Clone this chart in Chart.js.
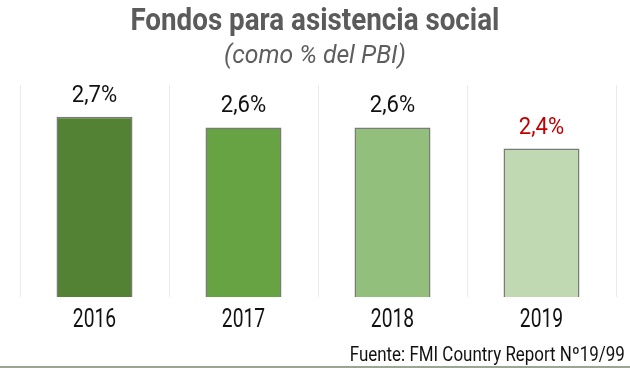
<!DOCTYPE html>
<html>
<head>
<meta charset="utf-8">
<script src="https://cdn.jsdelivr.net/npm/chart.js@4"></script>
<style>
  html,body{margin:0;padding:0;background:#fff;}
  #wrap{position:relative;width:630px;height:368px;overflow:hidden;font-family:Roboto,"Noto Sans",sans-serif;}
  #chart{position:absolute;left:0;top:0;}
  .line{position:absolute;left:0;width:630px;text-align:center;white-space:nowrap;line-height:1.17;}
  .line span{display:inline-block;transform-origin:center center;}
  #title{top:2px;font-weight:700;font-size:31px;color:#5b5b5b;}
  #subtitle{top:40px;font-style:italic;font-size:25px;color:#5e5e5e;}
  #source{top:343px;left:auto;right:5px;width:auto;text-align:right;font-size:20px;color:#111;}
  #source span{transform-origin:right center;}
  #bottomline{position:absolute;left:0;bottom:0;width:630px;height:2px;background:#9aa592;}
</style>
</head>
<body>
<div id="wrap">
  <canvas id="chart" width="630" height="368"></canvas>
  <div class="line" id="title"><span data-w="369">Fondos para asistencia social</span></div>
  <div class="line" id="subtitle"><span data-w="182">(como % del PBI)</span></div>
  <div class="line" id="source"><span data-w="275">Fuente: FMI Country Report Nº19/99</span></div>
  <div id="bottomline"></div>
</div>
<script>
const categories = ["2016", "2017", "2018", "2019"];
const values = [2.7, 2.6, 2.6, 2.4];
const valueLabels = ["2,7%", "2,6%", "2,6%", "2,4%"];
const barColors = ["#548235", "#67a243", "#93bf7c", "#c1d9b3"];
const labelColors = ["#111111", "#111111", "#111111", "#c00000"];

// condense HTML text to target widths
document.querySelectorAll('.line span').forEach(s => {
  const target = parseFloat(s.dataset.w);
  const w = s.getBoundingClientRect().width;
  s.style.transform = 'scaleX(' + (target / w) + ')';
});

const condensedLabels = {
  id: 'condensedLabels',
  afterDatasetsDraw(chart) {
    const ctx = chart.ctx;
    const meta = chart.getDatasetMeta(0);
    const xs = chart.scales.x;
    ctx.save();
    ctx.textAlign = 'center';
    ctx.textBaseline = 'alphabetic';
    meta.data.forEach((bar, i) => {
      // value labels
      ctx.save();
      ctx.font = '400 24px Roboto';
      ctx.fillStyle = labelColors[i];
      ctx.translate(bar.x, bar.y - 15);
      ctx.scale(0.92, 1);
      ctx.fillText(valueLabels[i], 0, 0);
      ctx.restore();
      // category labels
      ctx.save();
      ctx.font = '400 25px Roboto';
      ctx.fillStyle = '#111111';
      ctx.translate(xs.getPixelForValue(i), chart.chartArea.bottom + 30);
      ctx.scale(0.77, 1);
      ctx.fillText(categories[i], 0, 0);
      ctx.restore();
    });
    ctx.restore();
  }
};

new Chart(document.getElementById('chart'), {
  type: 'bar',
  data: {
    labels: categories,
    datasets: [{
      data: values,
      backgroundColor: barColors,
      borderColor: '#7a7a7a',
      borderWidth: 1.5,
      barPercentage: 0.51,
      categoryPercentage: 1.0
    }]
  },
  options: {
    responsive: false,
    animation: false,
    layout: { padding: { left: 20, right: 14, top: 85, bottom: 71 } },
    plugins: { legend: { display: false }, tooltip: { enabled: false }, title: { display: false } },
    scales: {
      x: {
        display: true,
        grid: { display: true, offset: true, color: '#ebebeb', lineWidth: 1, drawTicks: false },
        border: { display: false },
        ticks: { display: false }
      },
      y: {
        display: false,
        min: 1,
        max: 3
      }
    }
  },
  plugins: [condensedLabels]
});
</script>
</body>
</html>
